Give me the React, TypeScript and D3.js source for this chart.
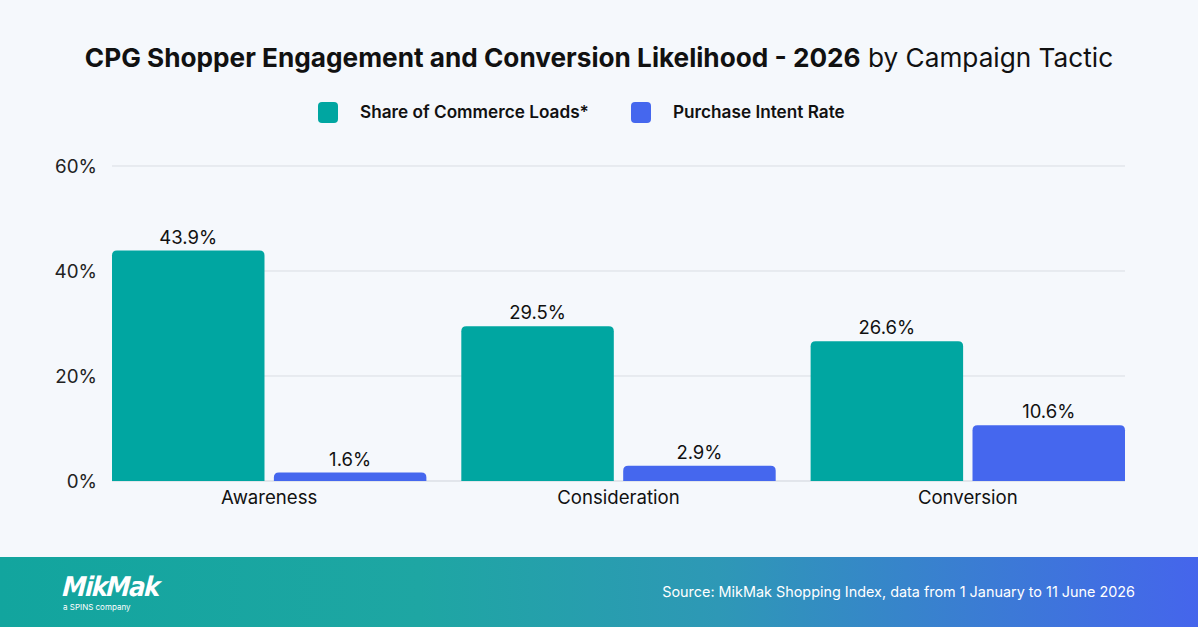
import React from "react";
import * as d3 from "d3";

const categories = ["Awareness", "Consideration", "Conversion"];
const seriesNames = ["Share of Commerce Loads*", "Purchase Intent Rate"];
const commerceLoads = [43.9, 29.5, 26.6];
const purchaseIntent = [1.6, 2.9, 10.6];
const yTicks = [0, 20, 40, 60];
const seriesColors = ["#00a6a1", "#4567ee"];

const W = 1198;
const H = 627;
const FONT = "Inter, 'Noto Sans', sans-serif";

// rounded-top bar path
function topRoundedRect(x: number, y: number, w: number, h: number, r: number) {
  const rr = Math.min(r, h, w / 2);
  return `M${x},${y + h}V${y + rr}Q${x},${y} ${x + rr},${y}H${x + w - rr}Q${x + w},${y} ${x + w},${y + rr}V${y + h}Z`;
}

export default function App() {
  const left = 112;
  const right = 1125;
  const top = 166;
  const bottom = 481;

  const y = d3.scaleLinear().domain([0, 60]).range([bottom, top]);
  const x0 = d3.scaleBand<string>().domain(categories).range([left, right]).paddingInner(0.1).paddingOuter(0);
  const x1 = d3.scaleBand<string>().domain(seriesNames).range([0, x0.bandwidth()]).paddingInner(0.058).paddingOuter(0);

  const series = [commerceLoads, purchaseIntent];

  return (
    <svg width={W} height={H} style={{ display: "block", position: "absolute", left: 0, top: 0 }}>
      <defs>
        <linearGradient id="footerGrad" x1="0" y1="0" x2="1" y2="0">
          <stop offset="0%" stopColor="#12a59e" />
          <stop offset="35%" stopColor="#1ea6a3" />
          <stop offset="60%" stopColor="#2e98b6" />
          <stop offset="100%" stopColor="#4565ec" />
        </linearGradient>
      </defs>
      <rect x={0} y={0} width={W} height={H} fill="#f5f8fc" />

      {/* title */}
      <text x={599} y={67} textAnchor="middle" fontFamily={FONT} fontSize={26.2} fill="#111">
        <tspan fontWeight={700}>CPG Shopper Engagement and Conversion Likelihood - 2026</tspan>
        <tspan fontWeight={400}> by Campaign Tactic</tspan>
      </text>

      {/* legend */}
      {seriesNames.map((name, i) => {
        const lx = i === 0 ? 318 : 631;
        return (
          <g key={name}>
            <rect x={lx} y={102} width={20} height={21} rx={4} fill={seriesColors[i]} />
            <text x={lx + 42} y={118} fontFamily={FONT} fontSize={17.2} fontWeight={600} fill="#111">
              {name}
            </text>
          </g>
        );
      })}

      {/* gridlines and y ticks */}
      {yTicks.map((t) => (
        <g key={t}>
          <line x1={left} x2={right} y1={y(t)} y2={y(t)} stroke={t === 0 ? "#cfd3da" : "#d9dde3"} strokeWidth={1} />
          <text x={97} y={y(t) + 7} textAnchor="end" fontFamily={FONT} fontSize={18.8} fill="#222">
            {`${t}%`}
          </text>
        </g>
      ))}

      {/* bars */}
      {categories.map((c, ci) => (
        <g key={c}>
          {seriesNames.map((s, si) => {
            const v = series[si][ci];
            const bx = (x0(c) ?? 0) + (x1(s) ?? 0);
            const bw = x1.bandwidth();
            const by = y(v);
            return (
              <g key={s}>
                <path d={topRoundedRect(bx, by, bw, bottom - by, 5)} fill={seriesColors[si]} />
                <text x={bx + bw / 2} y={by - 7} textAnchor="middle" fontFamily={FONT} fontSize={18.5} fill="#111">
                  {`${v.toFixed(1)}%`}
                </text>
              </g>
            );
          })}
          <text x={(x0(c) ?? 0) + x0.bandwidth() / 2} y={504} textAnchor="middle" fontFamily={FONT} fontSize={18.6} fill="#111">
            {c}
          </text>
        </g>
      ))}

      {/* footer */}
      <rect x={0} y={557} width={W} height={H - 557} fill="url(#footerGrad)" />
      <text x={62} y={596} fontFamily="'DejaVu Sans Condensed', 'DejaVu Sans', sans-serif" fontStyle="italic" fontWeight={700} fontSize={27} fill="#fff" letterSpacing={-1.5} transform="skewX(-4)" style={{ transformOrigin: "62px 596px" }}>
        MikMak
      </text>
      <text x={63} y={610} fontFamily={FONT} fontSize={8} fill="#fff">
        a SPINS company
      </text>
      <text x={1135} y={597} textAnchor="end" fontFamily={FONT} fontSize={14.4} fill="#fff">
        Source: MikMak Shopping Index, data from 1 January to 11 June 2026
      </text>
    </svg>
  );
}
